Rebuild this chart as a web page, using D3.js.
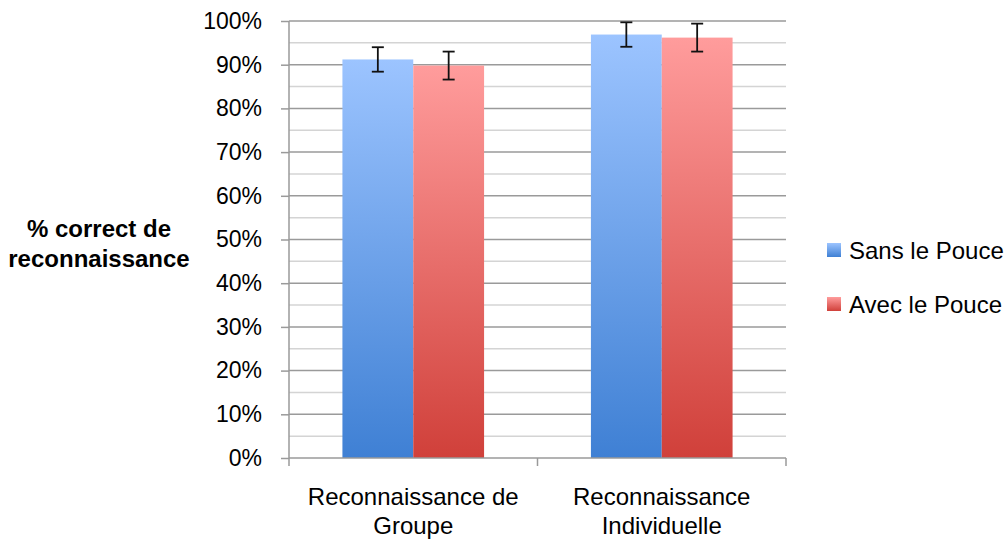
<!DOCTYPE html>
<html><head><meta charset="utf-8">
<script src="https://cdn.jsdelivr.net/npm/d3@7"></script>
<style>body{margin:0;background:#fff}svg{display:block}text{font-family:"Liberation Sans",Arial,sans-serif}</style>
</head><body><svg id="c" width="1007" height="541"></svg>
<script>
const categories = [["Reconnaissance de","Groupe"],["Reconnaissance","Individuelle"]];
const seriesNames = ["Sans le Pouce","Avec le Pouce"];
const sansValues = [91.2, 96.9];
const avecValues = [89.8, 96.2];
const sansErrors = [2.8, 2.8];
const avecErrors = [3.2, 3.2];
const majorTicks = [0,10,20,30,40,50,60,70,80,90,100];
const minorTicks = [5,15,25,35,45,55,65,75,85,95];

const svg = d3.select("#c");
const L=289, R=786, T=21, B=458;
const y = d3.scaleLinear().domain([0,100]).range([B,T]);
const x0 = d3.scaleBand().domain(d3.range(categories.length)).range([L,R]).paddingInner(0.43).paddingOuter(0.215);
const x1 = d3.scaleBand().domain(d3.range(2)).range([0,x0.bandwidth()]);

const defs = svg.append("defs");
const grads = [["gB","#9cc4ff","#3f80d4"],["gR","#ff9c9c","#d0403a"]];
grads.forEach(([id,c1,c2])=>{
  const g=defs.append("linearGradient").attr("id",id).attr("x1",0).attr("y1",0).attr("x2",0).attr("y2",1);
  g.append("stop").attr("offset",0).attr("stop-color",c1);
  g.append("stop").attr("offset",1).attr("stop-color",c2);
});

// minor gridlines
svg.append("g").selectAll("line").data(minorTicks).join("line")
  .attr("x1",L).attr("x2",R).attr("y1",d=>y(d)).attr("y2",d=>y(d))
  .attr("stroke","#d4d4d4").attr("stroke-width",1.5);
// major gridlines
svg.append("g").selectAll("line").data(majorTicks.filter(d=>d>0)).join("line")
  .attr("x1",L).attr("x2",R).attr("y1",d=>y(d)).attr("y2",d=>y(d))
  .attr("stroke","#9a9a9a").attr("stroke-width",1.5);

// y axis
const ya = svg.append("g").attr("transform",`translate(${L},0)`)
  .call(d3.axisLeft(y).tickValues(majorTicks).tickFormat(d=>d+"%").tickSize(8).tickPadding(19));
ya.select(".domain").attr("stroke","#9a9a9a").attr("stroke-width",1.5).attr("d",`M0,${T}V${B}`);
ya.selectAll(".tick line").attr("stroke","#9a9a9a").attr("stroke-width",1.5);
ya.selectAll(".tick text").attr("font-size",23).attr("fill","#000").attr("font-family","Liberation Sans, Arial, sans-serif");

// bars
const data = categories.map((c,i)=>[
  {s:0,v:sansValues[i],e:sansErrors[i]},
  {s:1,v:avecValues[i],e:avecErrors[i]}]);
const grp = svg.append("g").selectAll("g").data(data).join("g")
  .attr("transform",(d,i)=>`translate(${x0(i)},0)`);
grp.selectAll("rect").data(d=>d).join("rect")
  .attr("x",d=>x1(d.s)).attr("width",x1.bandwidth())
  .attr("y",d=>y(d.v)).attr("height",d=>B-y(d.v))
  .attr("fill",d=>d.s===0?"url(#gB)":"url(#gR)");
// error bars
const eb = grp.selectAll("g.eb").data(d=>d).join("g").attr("class","eb")
  .attr("transform",d=>`translate(${x1(d.s)+x1.bandwidth()/2},0)`);
eb.append("line").attr("x1",0).attr("x2",0).attr("y1",d=>y(d.v+d.e)).attr("y2",d=>y(d.v-d.e)).attr("stroke","#111").attr("stroke-width",1.8);
eb.append("line").attr("x1",-6).attr("x2",6).attr("y1",d=>y(d.v+d.e)).attr("y2",d=>y(d.v+d.e)).attr("stroke","#111").attr("stroke-width",1.8);
eb.append("line").attr("x1",-6).attr("x2",6).attr("y1",d=>y(d.v-d.e)).attr("y2",d=>y(d.v-d.e)).attr("stroke","#111").attr("stroke-width",1.8);

// x axis
svg.append("line").attr("x1",L).attr("x2",R).attr("y1",B).attr("y2",B).attr("stroke","#9a9a9a").attr("stroke-width",1.5);
const xt = [L, (L+R)/2, R];
svg.append("g").selectAll("line").data(xt).join("line")
  .attr("x1",d=>d).attr("x2",d=>d).attr("y1",B).attr("y2",B+8).attr("stroke","#9a9a9a").attr("stroke-width",1.5);
svg.append("g").selectAll("text").data(categories).join("text")
  .attr("x",(d,i)=>x0(i)+x0.bandwidth()/2).attr("y",505)
  .attr("text-anchor","middle").attr("font-size",24).attr("fill","#000")
  .selectAll("tspan").data(d=>d).join("tspan")
  .attr("x",function(){return this.parentNode.getAttribute("x");})
  .attr("dy",(d,i)=>i===0?0:29).text(d=>d);

// y title
svg.append("text").attr("x",99).attr("y",237).attr("text-anchor","middle")
  .attr("font-size",24).attr("font-weight","bold").attr("fill","#000")
  .selectAll("tspan").data(["% correct de","reconnaissance"]).join("tspan")
  .attr("x",99).attr("dy",(d,i)=>i===0?0:30).text(d=>d);

// legend
const lg = svg.append("g").selectAll("g").data(seriesNames).join("g")
  .attr("transform",(d,i)=>`translate(827,${243+i*54})`);
lg.append("rect").attr("width",14).attr("height",14).attr("fill",(d,i)=>i===0?"url(#gB)":"url(#gR)");
lg.append("text").attr("x",22).attr("y",16).attr("font-size",24).attr("fill","#000").text(d=>d);
</script></body></html>
